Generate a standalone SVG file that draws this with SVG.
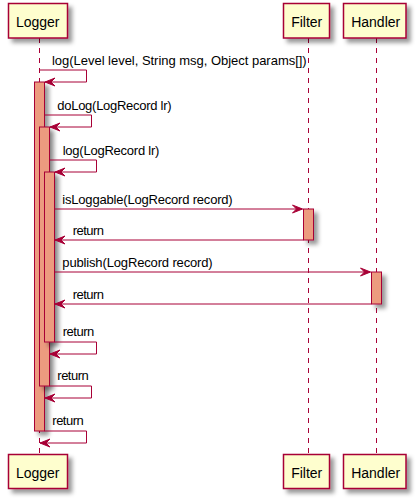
<svg xmlns="http://www.w3.org/2000/svg" width="416" height="498" viewBox="0 0 416 498">
<defs>
<filter id="sh" x="-1" y="-1" width="300%" height="300%">
<feGaussianBlur result="b" stdDeviation="2"/>
<feColorMatrix in="b" result="b2" type="matrix" values="0 0 0 0 0 0 0 0 0 0 0 0 0 0 0 0 0 0 .4 0"/>
<feOffset dx="4" dy="4" in="b2" result="b3"/>
<feBlend in="SourceGraphic" in2="b3" mode="normal"/>
</filter>
<marker id="ah" viewBox="-11 -5 12 10" refX="0" refY="0" markerWidth="12" markerHeight="10" markerUnits="userSpaceOnUse" orient="auto">
<polygon points="-10,-4 0,0 -10,4 -6,0" fill="#A80036" stroke="#A80036" stroke-width="1"/>
</marker>
<style>
.part{fill:#FEFECE;stroke:#A80036;stroke-width:1.5;filter:url(#sh)}
.act{fill:#EC9B7F;stroke:#A80036;stroke-width:1;filter:url(#sh)}
.life{stroke:#A80036;stroke-width:1;stroke-dasharray:5,5;fill:none}
.msg{stroke:#A80036;stroke-width:1;fill:none;marker-end:url(#ah)}
.pt{font-family:"Liberation Sans",Arial,sans-serif;font-size:14px;fill:#000;text-anchor:middle}
.mt{font-family:"Liberation Sans",Arial,sans-serif;font-size:13px;fill:#000}
</style>
</defs>
<g id="lifelines">
<line class="life" x1="39.5" y1="38" x2="39.5" y2="455"/>
<line class="life" x1="308.5" y1="38" x2="308.5" y2="455"/>
<line class="life" x1="376.5" y1="38" x2="376.5" y2="455"/>
</g>
<g id="Logger">
<rect class="part" x="8.5" y="3.5" width="59" height="34.5"/>
<text class="pt" x="37.7" y="27">Logger</text>
<rect class="part" x="8.5" y="454.5" width="59" height="34"/>
<text class="pt" x="37.7" y="478">Logger</text>
</g>
<g id="Filter">
<rect class="part" x="283.5" y="3.5" width="46" height="34.5"/>
<text class="pt" x="306.7" y="27">Filter</text>
<rect class="part" x="283.5" y="454.5" width="46" height="34"/>
<text class="pt" x="306.7" y="478">Filter</text>
</g>
<g id="Handler">
<rect class="part" x="343.5" y="3.5" width="62.5" height="34.5"/>
<text class="pt" x="375.7" y="27">Handler</text>
<rect class="part" x="343.5" y="454.5" width="62.5" height="34"/>
<text class="pt" x="375.7" y="478">Handler</text>
</g>
<g id="activations">
<rect class="act" x="34.5" y="82" width="10" height="349"/>
<rect class="act" x="39.5" y="127" width="10" height="259"/>
<rect class="act" x="44.5" y="172" width="10" height="170"/>
<rect class="act" x="303.5" y="209" width="10" height="31"/>
<rect class="act" x="371.5" y="272" width="10" height="32"/>
</g>
<g id="connectors">
<polyline class="msg" points="39.5,70 86.5,70 86.5,82 45,82"/>
<polyline class="msg" points="44.5,115 91.5,115 91.5,127 50,127"/>
<polyline class="msg" points="49.5,160 96.5,160 96.5,172 55,172"/>
<line class="msg" x1="54.5" y1="209" x2="302.5" y2="209"/>
<line class="msg" x1="303.5" y1="240" x2="55" y2="240"/>
<line class="msg" x1="54.5" y1="272" x2="370.5" y2="272"/>
<line class="msg" x1="371.5" y1="304" x2="55" y2="304"/>
<polyline class="msg" points="54.5,342 96.5,342 96.5,354 50,354"/>
<polyline class="msg" points="49.5,386 91.5,386 91.5,398 45,398"/>
<polyline class="msg" points="44.5,431 86.5,431 86.5,443 40,443"/>
</g>
<g id="labels">
<text class="mt" x="52" y="64.5" textLength="254.7">log(Level level, String msg, Object params[])</text>
<text class="mt" x="57.3" y="109.5" textLength="114.3">doLog(LogRecord lr)</text>
<text class="mt" x="62.7" y="154.5" textLength="96.7">log(LogRecord lr)</text>
<text class="mt" x="62.3" y="203.5" textLength="170.4">isLoggable(LogRecord record)</text>
<text class="mt" x="72.7" y="234.5" textLength="31.3">return</text>
<text class="mt" x="62.3" y="266.5" textLength="150.4">publish(LogRecord record)</text>
<text class="mt" x="72.7" y="298.5" textLength="31.3">return</text>
<text class="mt" x="62.7" y="336" textLength="31.5">return</text>
<text class="mt" x="57.3" y="380" textLength="31.5">return</text>
<text class="mt" x="52.3" y="425" textLength="31.5">return</text>
</g>
</svg>
